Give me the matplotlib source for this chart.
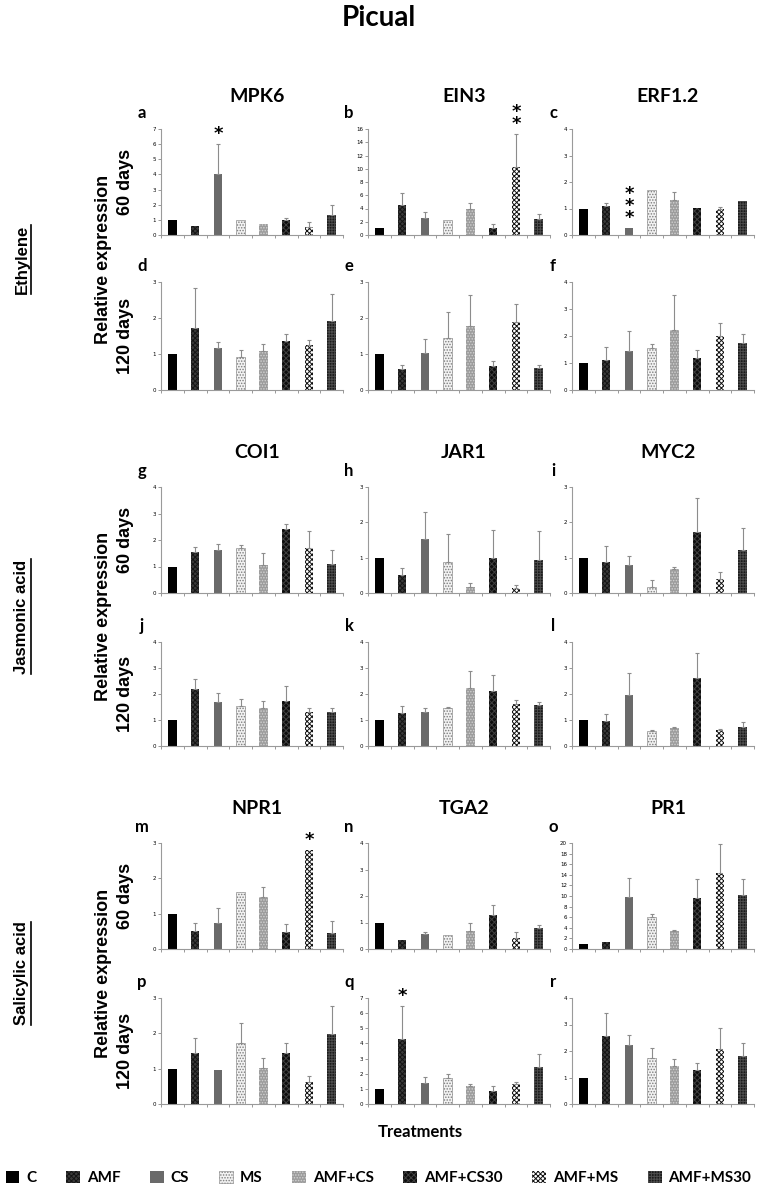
import matplotlib

matplotlib.use("Agg")
import matplotlib.pyplot as plt
import numpy as np
from matplotlib.lines import Line2D
from matplotlib.patches import Patch

treatments = ["C", "AMF", "CS", "MS", "AMF+CS", "AMF+CS30", "AMF+MS", "AMF+MS30"]

# Ethylene
mpk6_60 = [1.0, 0.6, 4.0, 1.0, 0.7, 1.0, 0.5, 1.3]
mpk6_60_err = [0, 0, 2.0, 0, 0, 0.12, 0.35, 0.7]
ein3_60 = [1.0, 4.5, 2.5, 2.3, 4.0, 1.1, 10.3, 2.4]
ein3_60_err = [0, 1.8, 0.9, 0, 0.9, 0.6, 5.0, 0.8]
erf12_60 = [1.0, 1.08, 0.28, 1.68, 1.32, 1.03, 0.98, 1.28]
erf12_60_err = [0, 0.12, 0, 0, 0.32, 0, 0.07, 0]
mpk6_120 = [1.0, 1.72, 1.18, 0.93, 1.07, 1.35, 1.25, 1.93]
mpk6_120_err = [0, 1.1, 0.15, 0.19, 0.22, 0.2, 0.14, 0.75]
ein3_120 = [1.0, 0.57, 1.03, 1.44, 1.77, 0.67, 1.9, 0.6]
ein3_120_err = [0, 0.13, 0.4, 0.73, 0.87, 0.13, 0.5, 0.1]
erf12_120 = [1.0, 1.1, 1.45, 1.55, 2.24, 1.18, 2.0, 1.75]
erf12_120_err = [0, 0.5, 0.75, 0.14, 1.28, 0.32, 0.5, 0.33]

# Jasmonic acid
coi1_60 = [1.0, 1.55, 1.62, 1.7, 1.05, 2.4, 1.7, 1.1]
coi1_60_err = [0, 0.17, 0.22, 0.12, 0.47, 0.22, 0.65, 0.52]
jar1_60 = [1.0, 0.5, 1.53, 0.88, 0.17, 1.0, 0.14, 0.93]
jar1_60_err = [0, 0.2, 0.75, 0.8, 0.1, 0.78, 0.1, 0.82]
myc2_60 = [1.0, 0.89, 0.8, 0.18, 0.67, 1.72, 0.39, 1.22]
myc2_60_err = [0, 0.45, 0.24, 0.18, 0.06, 0.96, 0.2, 0.62]
coi1_120 = [1.0, 2.18, 1.68, 1.52, 1.48, 1.72, 1.3, 1.32]
coi1_120_err = [0, 0.4, 0.37, 0.28, 0.27, 0.58, 0.15, 0.13]
jar1_120 = [1.0, 1.28, 1.3, 1.48, 2.22, 2.12, 1.62, 1.58]
jar1_120_err = [0, 0.24, 0.18, 0.02, 0.68, 0.6, 0.16, 0.1]
myc2_120 = [1.0, 0.97, 1.95, 0.58, 0.68, 2.62, 0.62, 0.72]
myc2_120_err = [0, 0.28, 0.87, 0.02, 0.07, 0.97, 0.03, 0.2]

# Salicylic acid
npr1_60 = [1.0, 0.51, 0.73, 1.6, 1.46, 0.47, 2.8, 0.45]
npr1_60_err = [0, 0.23, 0.42, 0, 0.29, 0.23, 0, 0.33]
tga2_60 = [1.0, 0.35, 0.57, 0.54, 0.69, 1.3, 0.4, 0.78]
tga2_60_err = [0, 0, 0.06, 0, 0.3, 0.37, 0.23, 0.14]
pr1_60 = [1.0, 1.3, 9.8, 6.1, 3.4, 9.6, 14.4, 10.2]
pr1_60_err = [0, 0, 3.6, 0.5, 0.1, 3.7, 5.4, 3.0]
npr1_120 = [1.0, 1.45, 0.95, 1.72, 1.03, 1.45, 0.62, 1.97]
npr1_120_err = [0, 0.43, 0, 0.58, 0.27, 0.27, 0.18, 0.81]
tga2_120 = [1.0, 4.3, 1.4, 1.75, 1.18, 0.88, 1.35, 2.45]
tga2_120_err = [0, 2.2, 0.4, 0.2, 0.12, 0.32, 0.1, 0.85]
pr1_120 = [1.0, 2.55, 2.22, 1.72, 1.45, 1.28, 2.08, 1.8]
pr1_120_err = [0, 0.9, 0.38, 0.38, 0.25, 0.27, 0.8, 0.5]

W, H = 757, 1193
faces = ["#000000", "#3a3a3a", "#6a6a6a", "#f2f2f2", "#9c9c9c", "#0e0e0e", "#ffffff", "#1a1a1a"]
hatch_cols = ["#000000", "#151515", "#6a6a6a", "#7c7c7c", "#d2d2d2", "#404040", "#111111", "#4c4c4c"]
hatches = [None, "xxxxxxx", None, "......", "......", "xxxxxx", "xxxxxxx", "++++++"]
outline = [0, 0, 0, 0.4, 0, 0, 0, 0]

plt.rcParams["hatch.linewidth"] = 0.7
fig = plt.figure(figsize=(W / 100, H / 100), dpi=100)


def rect(left, top, w, h):
    return [left / W, 1 - (top + h) / H, w / W, h / H]


def panel(left, top, bottom, vals, errs, ymax, step, letter, stars=None):
    ax = fig.add_axes(rect(left, top, 182, bottom - top))
    x = np.arange(len(vals)) + 0.5
    for i in range(len(vals)):
        ax.bar(x[i], vals[i], width=0.38, color=faces[i], edgecolor=hatch_cols[i],
               hatch=hatches[i], linewidth=outline[i])
    e = np.array(errs)
    m = e > 0
    ax.errorbar(x[m], np.array(vals)[m], yerr=[np.zeros(m.sum()), e[m]], fmt="none",
                ecolor="#8c8c8c", elinewidth=0.8, capsize=1.6, capthick=0.8)
    ax.set_xlim(0, len(vals))
    ax.set_ylim(0, ymax)
    ax.set_yticks(np.arange(0, ymax + 0.01, step))
    ax.set_yticklabels([f"{v:g}" for v in np.arange(0, ymax + 0.01, step)])
    ax.set_xticks(np.arange(len(vals) + 1))
    ax.set_xticklabels([])
    ax.tick_params(axis="both", length=2, width=0.6, color="#888888", labelsize=4, pad=1.5)
    for s in ["top", "right"]:
        ax.spines[s].set_visible(False)
    for s in ["left", "bottom"]:
        ax.spines[s].set_color("#9a9a9a")
        ax.spines[s].set_linewidth(0.8)
    fig.text((left - 19) / W, 1 - (top - 16) / H, letter, fontsize=12, fontweight="bold",
             family="Lato", ha="center", va="center")
    if stars:
        idx, n = stars
        top_v = vals[idx] + errs[idx]
        ax.text(x[idx], top_v + ymax * 0.01, "\n".join(["*"] * n), ha="center", va="bottom",
                fontsize=13, fontweight="bold", linespacing=0.55)
    return ax


cols = [161, 368, 572]
rows = [(129, 235), (282, 390), (487, 593), (642, 746), (843, 949), (998, 1104)]

specs = [
    [(mpk6_60, mpk6_60_err, 7, 1, "a", (2, 1)), (ein3_60, ein3_60_err, 16, 2, "b", (6, 2)),
     (erf12_60, erf12_60_err, 4, 1, "c", (2, 3))],
    [(mpk6_120, mpk6_120_err, 3, 1, "d", None), (ein3_120, ein3_120_err, 3, 1, "e", None),
     (erf12_120, erf12_120_err, 4, 1, "f", None)],
    [(coi1_60, coi1_60_err, 4, 1, "g", None), (jar1_60, jar1_60_err, 3, 1, "h", None),
     (myc2_60, myc2_60_err, 3, 1, "i", None)],
    [(coi1_120, coi1_120_err, 4, 1, "j", None), (jar1_120, jar1_120_err, 4, 1, "k", None),
     (myc2_120, myc2_120_err, 4, 1, "l", None)],
    [(npr1_60, npr1_60_err, 3, 1, "m", (6, 1)), (tga2_60, tga2_60_err, 4, 1, "n", None),
     (pr1_60, pr1_60_err, 20, 2, "o", None)],
    [(npr1_120, npr1_120_err, 3, 1, "p", None), (tga2_120, tga2_120_err, 7, 1, "q", (1, 1)),
     (pr1_120, pr1_120_err, 4, 1, "r", None)],
]

for r, row in enumerate(specs):
    top, bottom = rows[r]
    for c, (v, e, ymax, step, letter, stars) in enumerate(row):
        panel(cols[c], top, bottom, v, e, ymax, step, letter, stars)

genes = [["MPK6", "EIN3", "ERF1.2"], ["COI1", "JAR1", "MYC2"], ["NPR1", "TGA2", "PR1"]]
title_y = [97, 453, 808]
for g in range(3):
    for c in range(3):
        fig.text((cols[c] + 96) / W, 1 - title_y[g] / H, genes[g][c], fontsize=14,
                 fontweight="bold", family="Lato", ha="center", va="center")

fig.text(0.5, 1 - 18 / H, "Picual", fontsize=20, fontweight="bold", family="Lato",
         ha="center", va="center")

groups = ["Ethylene", "Jasmonic acid", "Salicylic acid"]
group_labels = []
for g in range(3):
    t1, b1 = rows[2 * g]
    t2, b2 = rows[2 * g + 1]
    mid = (t1 + b2) / 2
    fig.text(104 / W, 1 - mid / H, "Relative expression", rotation=90, fontsize=13,
             fontweight="bold", family="Liberation Sans", ha="center", va="center")
    fig.text(126 / W, 1 - (t1 + b1) / 2 / H, "60 days", rotation=90, fontsize=13,
             fontweight="bold", family="Liberation Sans", ha="center", va="center")
    fig.text(126 / W, 1 - (t2 + b2) / 2 / H, "120 days", rotation=90, fontsize=13,
             fontweight="bold", family="Liberation Sans", ha="center", va="center")
    group_labels.append(fig.text(22 / W, 1 - mid / H, groups[g], rotation=90, fontsize=12,
                                 fontweight="bold", family="Liberation Sans",
                                 ha="center", va="center"))

fig.text(420 / W, 1 - 1132 / H, "Treatments", fontsize=12, fontweight="bold",
         family="Lato", ha="center", va="center")

handles = [Patch(facecolor=faces[i], edgecolor=hatch_cols[i], hatch=hatches[i],
                 linewidth=outline[i]) for i in range(len(treatments))]
fig.legend(handles, treatments, loc="center", bbox_to_anchor=(0.5, 1 - 1178 / H), ncol=8,
           frameon=False, handlelength=0.9, handleheight=0.9, handletextpad=0.45,
           columnspacing=1.95, prop={"family": "Lato", "weight": "bold", "size": 11})

# underline the group labels
fig.canvas.draw()
renderer = fig.canvas.get_renderer()
for t in group_labels:
    bb = t.get_window_extent(renderer).transformed(fig.transFigure.inverted())
    fig.add_artist(Line2D([bb.x1 + 1.5 / W, bb.x1 + 1.5 / W], [bb.y0, bb.y1],
                          transform=fig.transFigure, color="black", linewidth=1.2))

fig.savefig("out.png", dpi=100)
